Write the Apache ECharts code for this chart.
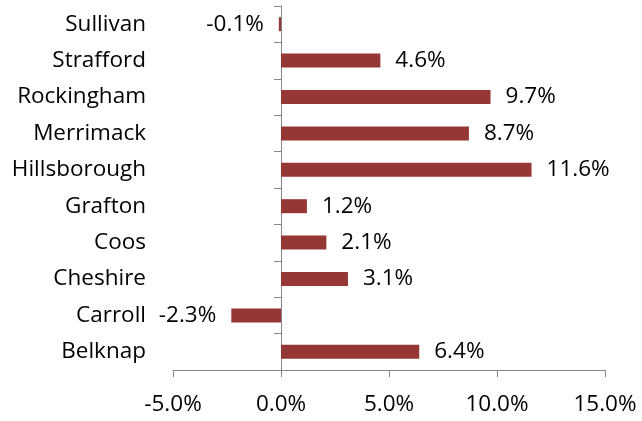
<!DOCTYPE html>
<html>
<head>
<meta charset="utf-8">
<script src="https://cdn.jsdelivr.net/npm/echarts@6/dist/echarts.min.js"></script>
<style>html,body{margin:0;padding:0;background:#fff;}#c{width:642px;height:421px;}</style>
</head>
<body>
<div id="c"></div>
<script>
var categories = ['Belknap', 'Carroll', 'Cheshire', 'Coos', 'Grafton', 'Hillsborough', 'Merrimack', 'Rockingham', 'Strafford', 'Sullivan'];
var values = [6.4, -2.3, 3.1, 2.1, 1.2, 11.6, 8.7, 9.7, 4.6, -0.1];
var xMin = -5, xMax = 15, xInterval = 5;

var FONT = 'Open Sans';
var FS = 22.5;
var chart = echarts.init(document.getElementById('c'));
var data = values.map(function (v) {
  return { value: v, label: { position: v < 0 ? 'left' : 'right' } };
});
chart.setOption({
  animation: false,
  grid: { left: 173, right: 37, top: 6, bottom: 51, containLabel: false, outerBoundsMode: 'none' },
  xAxis: {
    type: 'value', min: xMin, max: xMax, interval: xInterval,
    axisLine: { show: true, lineStyle: { color: '#868686', width: 1 } },
    axisTick: { show: true, length: 7, lineStyle: { color: '#868686' } },
    splitLine: { show: false },
    axisLabel: {
      margin: 23, color: '#000', fontFamily: FONT, fontSize: FS,
      formatter: function (v) { return v.toFixed(1) + '%'; }
    }
  },
  yAxis: {
    type: 'category', data: categories,
    axisLine: { show: true, onZero: true, lineStyle: { color: '#868686', width: 1 } },
    axisTick: { show: true, length: 7, lineStyle: { color: '#868686' } },
    axisLabel: { margin: 27, color: '#000', fontFamily: FONT, fontSize: FS }
  },
  series: [{
    type: 'bar', data: data, barWidth: 14,
    itemStyle: { color: '#953735' },
    label: {
      show: true, distance: 15, color: '#000', fontFamily: FONT, fontSize: FS,
      formatter: function (p) { return p.value.toFixed(1) + '%'; }
    }
  }]
});
</script>
</body>
</html>
